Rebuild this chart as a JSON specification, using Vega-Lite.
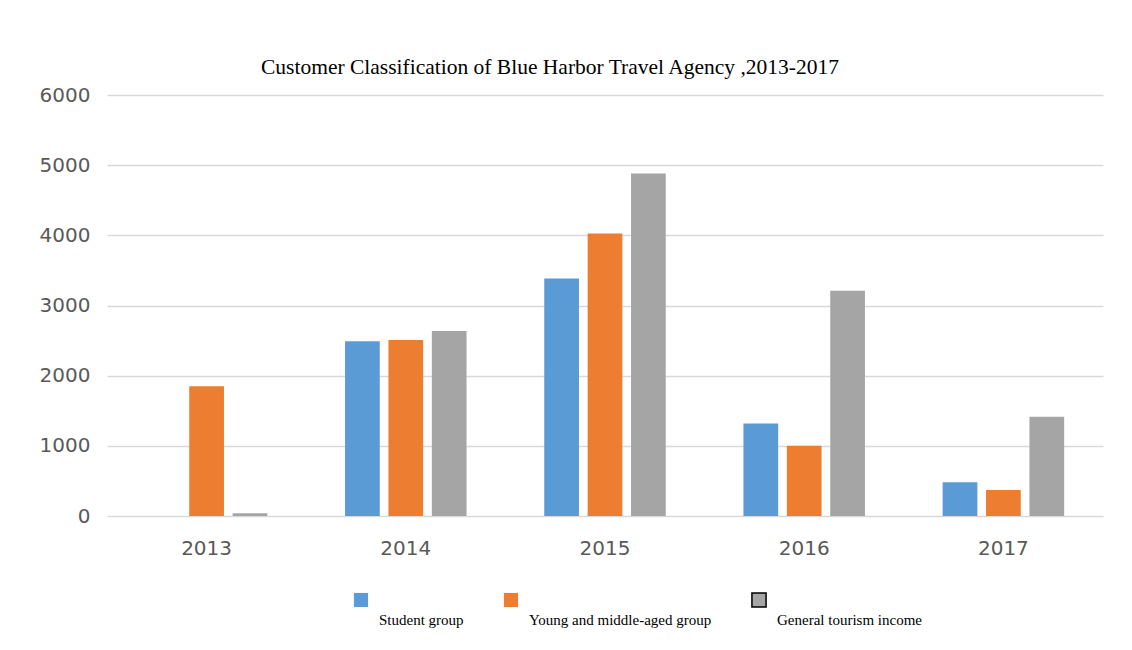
{
  "$schema": "https://vega.github.io/schema/vega-lite/v6.json",
  "autosize": {"type": "none"},
  "padding": {"left": 107, "top": 95, "right": 29, "bottom": 134},
  "width": 996,
  "height": 421,
  "background": "white",
  "title": {
    "text": "Customer Classification of Blue Harbor Travel Agency ,2013-2017",
    "font": "Liberation Serif",
    "fontSize": 21.5,
    "fontWeight": "normal",
    "color": "black",
    "anchor": "middle",
    "dx": -55,
    "offset": 7
  },
  "data": {
    "values": [
      {"year": "2013", "group": "Student group", "value": 0},
      {"year": "2013", "group": "Young and middle-aged group", "value": 1850},
      {"year": "2013", "group": "General tourism income", "value": 40},
      {"year": "2014", "group": "Student group", "value": 2490},
      {"year": "2014", "group": "Young and middle-aged group", "value": 2510},
      {"year": "2014", "group": "General tourism income", "value": 2635},
      {"year": "2015", "group": "Student group", "value": 3385},
      {"year": "2015", "group": "Young and middle-aged group", "value": 4025},
      {"year": "2015", "group": "General tourism income", "value": 4880},
      {"year": "2016", "group": "Student group", "value": 1320},
      {"year": "2016", "group": "Young and middle-aged group", "value": 1000},
      {"year": "2016", "group": "General tourism income", "value": 3210},
      {"year": "2017", "group": "Student group", "value": 480},
      {"year": "2017", "group": "Young and middle-aged group", "value": 370},
      {"year": "2017", "group": "General tourism income", "value": 1415}
    ]
  },
  "mark": {"type": "bar"},
  "encoding": {
    "x": {
      "field": "year",
      "type": "nominal",
      "scale": {"paddingInner": 0.39, "paddingOuter": 0.195},
      "axis": {
        "title": null,
        "labelAngle": 0,
        "labelFont": "DejaVu Sans",
        "labelFontSize": 20,
        "labelColor": "#595959",
        "labelPadding": 22,
        "ticks": false,
        "domain": false,
        "grid": false
      }
    },
    "xOffset": {
      "field": "group",
      "type": "nominal",
      "sort": ["Student group", "Young and middle-aged group", "General tourism income"],
      "scale": {"paddingInner": 0.2, "paddingOuter": 0}
    },
    "y": {
      "field": "value",
      "type": "quantitative",
      "scale": {"domain": [0, 6000], "nice": false},
      "axis": {
        "title": null,
        "values": [0, 1000, 2000, 3000, 4000, 5000, 6000],
        "format": "d",
        "labelFont": "DejaVu Sans",
        "labelFontSize": 20,
        "labelColor": "#595959",
        "labelPadding": 17,
        "ticks": false,
        "domain": false,
        "grid": true,
        "gridColor": "#d9d9d9",
        "gridWidth": 1.5
      }
    },
    "color": {
      "field": "group",
      "type": "nominal",
      "sort": ["Student group", "Young and middle-aged group", "General tourism income"],
      "scale": {
        "domain": ["Student group", "Young and middle-aged group", "General tourism income"],
        "range": ["#5B9BD5", "#ED7D31", "#A5A5A5"]
      },
      "legend": {
        "title": null,
        "orient": "none",
        "direction": "horizontal",
        "legendX": 246,
        "legendY": 497,
        "symbolType": "square",
        "symbolSize": 200,
        "labelFont": "Liberation Serif",
        "labelFontSize": 15,
        "labelLimit": 400,
        "labelColor": "black",
        "labelOffset": 10,
        "columnPadding": 36,
        "encode": {
          "labels": {"update": {"dy": {"value": 20}}},
          "symbols": {"update": {"stroke": {"signal": "datum.value === 'General tourism income' ? 'black' : 'transparent'"}, "strokeWidth": {"value": 1.5}}}
        }
      }
    }
  },
  "config": {"view": {"stroke": null}}
}
